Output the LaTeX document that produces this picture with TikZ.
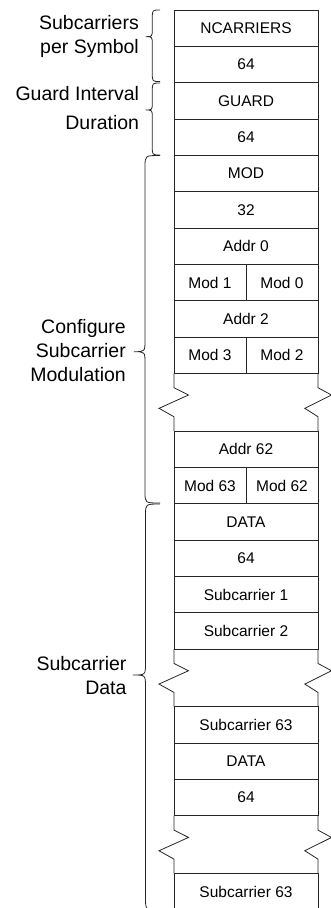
\documentclass[tikz,border=0pt]{standalone}
\usepackage{fontspec}
\setmainfont{Liberation Sans}
\begin{document}
\begin{tikzpicture}[x=1pt,y=-1pt,
  cell/.style={draw=black!85, line width=0.8pt, minimum width=144pt, minimum height=36.33pt, inner sep=0pt, outer sep=0pt, font=\fontsize{15.5}{18}\selectfont},
  half/.style={cell, minimum width=72pt},
  lbl/.style={align=right, anchor=base east, inner sep=0pt, font=\fontsize{19.5}{24}\selectfont},
  edge/.style={draw=black!85, line width=0.8pt},
  brace/.style={draw=black!85, line width=0.8pt}]
\useasboundingbox (0,0) rectangle (331,908);
% rows
\node[cell] (r0) at (246,28.17) {NCARRIERS};
\node[cell] (r1) at (246,64.5) {64};
\node[cell] (r2) at (246,100.83) {GUARD};
\node[cell] (r3) at (246,137.17) {64};
\node[cell] (r4) at (246,173.5) {MOD};
\node[cell] (r5) at (246,209.83) {32};
\node[cell] (r6) at (246,246.17) {Addr 0};
\node[half] (r7a) at (210,282.5) {Mod 1};
\node[half] (r7b) at (282,282.5) {Mod 0};
\node[cell] (r8) at (246,318.83) {Addr 2};
\node[half] (r9a) at (210,355.17) {Mod 3};
\node[half] (r9b) at (282,355.17) {Mod 2};
\node[cell] (r10) at (246,449.2) {Addr 62};
\node[half] (r11a) at (210,485.53) {Mod 63};
\node[half] (r11b) at (282,485.53) {Mod 62};
\node[cell] (r12) at (246,521.87) {DATA};
\node[cell] (r13) at (246,558.2) {64};
\node[cell] (r14) at (246,594.53) {Subcarrier 1};
\node[cell] (r15) at (246,630.87) {Subcarrier 2};
\node[cell] (r16) at (246,724.9) {Subcarrier 63};
\node[cell] (r17) at (246,761.23) {DATA};
\node[cell] (r18) at (246,797.57) {64};
\node[cell, draw=none] (r19) at (246,891.6) {Subcarrier 63};
\draw[edge] (r19.south west) -- (r19.north west) -- (r19.north east) -- (r19.south east);
% gaps with zigzag sides
\draw[edge] (r9a.south west) -- ++(0,14.4) -- ++(14.5,7.3) -- ++(-29.5,13.3) -- ++(15,8.4) -- (r10.north west);
\draw[edge] (r9b.south east) -- ++(0,14.4) -- ++(13.5,7.3) -- ++(-26.7,13.3) -- ++(13.2,8.4) -- (r10.north east);
\draw[edge] (r15.south west) -- ++(0,14.4) -- ++(14.5,7.3) -- ++(-29.5,13.3) -- ++(15,8.4) -- (r16.north west);
\draw[edge] (r15.south east) -- ++(0,14.4) -- ++(13.5,7.3) -- ++(-26.7,13.3) -- ++(13.2,8.4) -- (r16.north east);
\draw[edge] (r18.south west) -- ++(0,14.4) -- ++(14.5,7.3) -- ++(-29.5,13.3) -- ++(15,8.4) -- (r19.north west);
\draw[edge] (r18.south east) -- ++(0,14.4) -- ++(13.5,7.3) -- ++(-26.7,13.3) -- ++(13.2,8.4) -- (r19.north east);
% braces
\draw[brace] (160,10) .. controls (152.3,10) .. (152.3,18) -- (152.3,28.7) .. controls (152.3,36.7) .. (145.7,36.7) .. controls (152.3,36.7) .. (152.3,44.7) -- (152.3,73.5) .. controls (152.3,81.5) .. (160,81.5);
\draw[brace] (160,83) .. controls (152.3,83) .. (152.3,91) -- (152.3,102) .. controls (152.3,110) .. (145.7,110) .. controls (152.3,110) .. (152.3,118) -- (152.3,147) .. controls (152.3,155) .. (160,155);
\draw[brace] (160,155.5) .. controls (145,155.5) .. (145,167) -- (145,340) .. controls (145,351.7) .. (134,351.7) .. controls (145,351.7) .. (145,363.4) -- (145,492) .. controls (145,503) .. (160,503);
\draw[brace] (160,504) .. controls (145.5,504) .. (145.5,515) -- (145.5,663) .. controls (145.5,675) .. (133,675) .. controls (145.5,675) .. (145.5,687) -- (145.5,898) .. controls (145.5,910) .. (160,910);
% labels (anchored at the baseline of the last line)
\node[lbl] (l1) at (139,53.3) {Subcarriers\\per Symbol};
\node[lbl, font=\fontsize{19.5}{29}\selectfont] (l2) at (139.3,129.3) {Guard Interval\\Duration};
\node[lbl] (l3) at (126,381.7) {Configure\\Subcarrier\\Modulation};
\node[lbl] (l4) at (126.7,694) {Subcarrier\\Data};
\end{tikzpicture}
\end{document}
